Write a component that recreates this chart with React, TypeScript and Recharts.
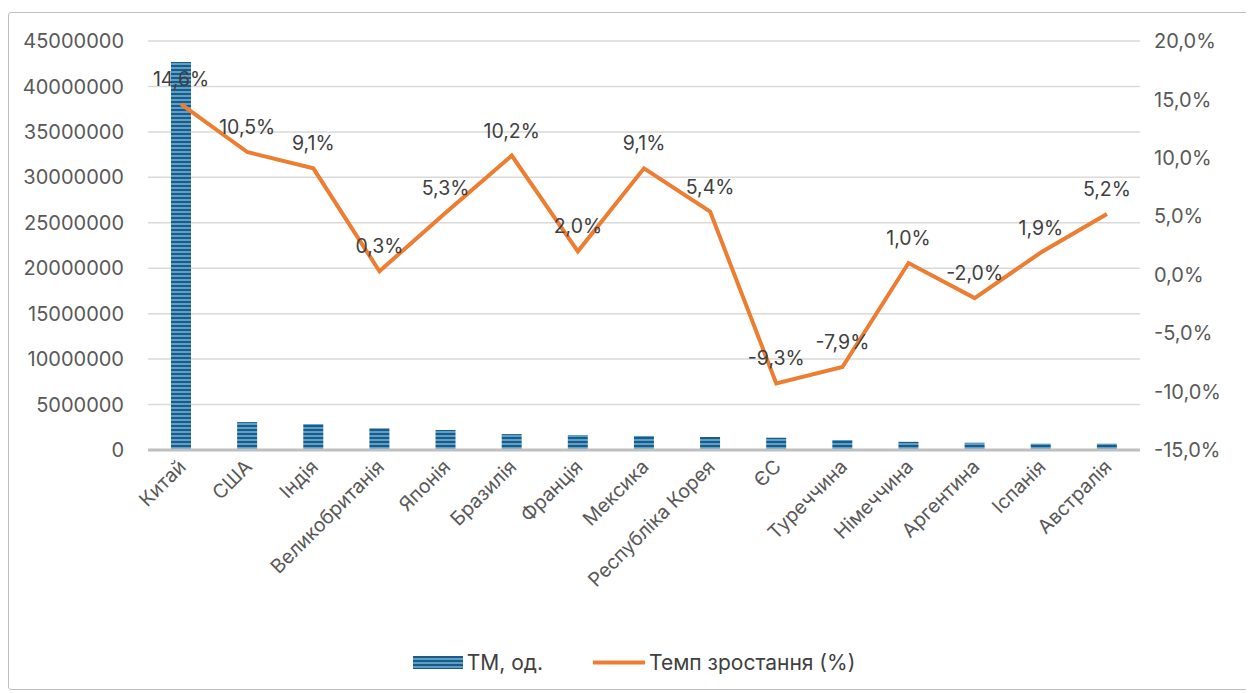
import React from 'react';
import {
  ComposedChart,
  Bar,
  Line,
  XAxis,
  YAxis,
  CartesianGrid,
  Legend,
  LabelList,
} from 'recharts';

const countries = [
  'Китай', 'США', 'Індія', 'Великобританія', 'Японія', 'Бразилія', 'Франція', 'Мексика',
  'Республіка Корея', 'ЄС', 'Туреччина', 'Німеччина', 'Аргентина', 'Іспанія', 'Австралія',
];
const tmCount = [
  42700000, 3070000, 2850000, 2400000, 2200000, 1750000, 1650000, 1550000,
  1430000, 1350000, 1100000, 900000, 800000, 700000, 700000,
];
const growth = [14.6, 10.5, 9.1, 0.3, 5.3, 10.2, 2.0, 9.1, 5.4, -9.3, -7.9, 1.0, -2.0, 1.9, 5.2];
const leftTicks = [0, 5000000, 10000000, 15000000, 20000000, 25000000, 30000000, 35000000, 40000000, 45000000];
const rightTicks = [-15, -10, -5, 0, 5, 10, 15, 20];

const data = countries.map((name, i) => ({ name, tm: tmCount[i], rate: growth[i] }));

const pct = (v: number) => `${v.toFixed(1).replace('.', ',')}%`;
const font = 'Inter, "Noto Sans", sans-serif';

function CountryTick(props: any) {
  const { x, y, payload } = props;
  return (
    <text
      x={x + 6}
      y={y + 10}
      transform={`rotate(-45, ${x + 6}, ${y + 10})`}
      textAnchor="end"
      fontSize={19.5}
      fill="#595959"
      fontFamily={font}
    >
      {payload.value}
    </text>
  );
}

export default function App() {
  return (
    <div
      style={{
        marginTop: 4,
        width: 1240,
        height: 676,
        border: '1px solid #bfbfbf',
        borderRadius: 3,
        fontFamily: font,
      }}
    >
      <ComposedChart
        width={1240}
        height={676}
        data={data}
        margin={{ top: 28, right: 0, left: 0, bottom: 0 }}
      >
        <defs>
          <pattern id="stripes" width="4" height="4" patternUnits="userSpaceOnUse">
            <rect width="4" height="4" fill="#5b9fcc" />
            <rect width="4" height="2" fill="#1d5b82" />
          </pattern>
        </defs>
        <CartesianGrid vertical={false} stroke="#d9d9d9" strokeWidth={1.5} yAxisId="left" />
        <XAxis
          dataKey="name"
          interval={0}
          height={200}
          tick={<CountryTick />}
          tickLine={false}
          axisLine={{ stroke: '#bfbfbf', strokeWidth: 3 }}
        />
        <YAxis
          yAxisId="left"
          width={139}
          domain={[0, 45000000]}
          ticks={leftTicks}
          tickLine={false}
          axisLine={false}
          tickMargin={18}
          tick={{ fontSize: 20, fill: '#595959', fontFamily: font }}
        />
        <YAxis
          yAxisId="right"
          orientation="right"
          width={109}
          domain={[-15, 20]}
          ticks={rightTicks}
          tickFormatter={pct}
          tickLine={false}
          axisLine={false}
          tickMargin={8}
          tick={{ fontSize: 20, fill: '#595959', fontFamily: font, textAnchor: 'start' }}
        />
        <Bar
          yAxisId="left"
          dataKey="tm"
          name="ТМ, од."
          fill="url(#stripes)"
          barSize={20}
          isAnimationActive={false}
        />
        <Line
          yAxisId="right"
          dataKey="rate"
          name="Темп зростання (%)"
          stroke="#ed7d31"
          strokeWidth={4}
          dot={false}
          activeDot={false}
          isAnimationActive={false}
        >
          <LabelList
            dataKey="rate"
            position="top"
            offset={18}
            formatter={(v: any) => pct(Number(v))}
            style={{ fontSize: 19.5, fill: '#404040', fontFamily: font }}
          />
        </Line>
        <Legend
          verticalAlign="bottom"
          align="center"
          wrapperStyle={{ paddingBottom: 14 }}
          content={() => (
            <div style={{ display: 'flex', justifyContent: 'center', gap: 50, fontSize: 21, color: '#404040', paddingLeft: 10 }}>
              <span style={{ display: 'flex', alignItems: 'center' }}>
                <svg width={50} height={13} style={{ marginRight: 4 }}>
                  <rect width={50} height={13} fill="url(#stripesLegend)" />
                  <defs>
                    <pattern id="stripesLegend" width="4" height="4" patternUnits="userSpaceOnUse">
                      <rect width="4" height="4" fill="#5b9fcc" />
                      <rect width="4" height="2" fill="#1d5b82" />
                    </pattern>
                  </defs>
                </svg>
                ТМ, од.
              </span>
              <span style={{ display: 'flex', alignItems: 'center' }}>
                <svg width={52} height={13} style={{ marginRight: 4 }}>
                  <line x1={0} y1={6.5} x2={52} y2={6.5} stroke="#ed7d31" strokeWidth={4} />
                </svg>
                Темп зростання (%)
              </span>
            </div>
          )}
        />
      </ComposedChart>
    </div>
  );
}
